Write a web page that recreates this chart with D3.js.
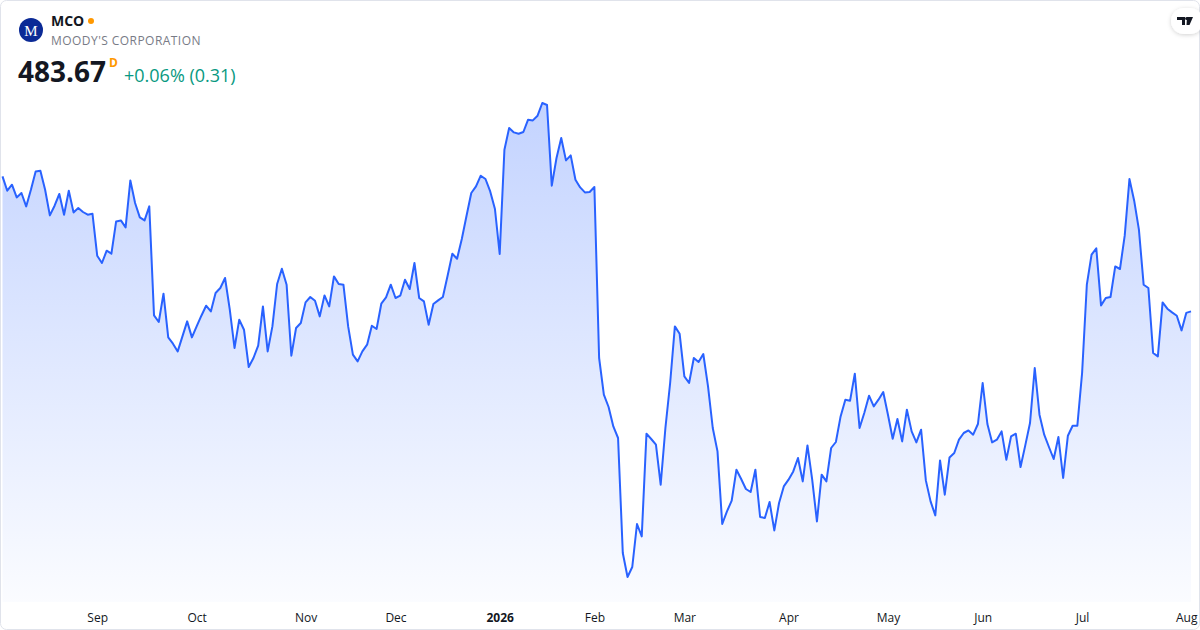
<!DOCTYPE html>
<html>
<head>
<meta charset="utf-8">
<script src="https://cdn.jsdelivr.net/npm/d3@7"></script>
<style>
  html, body { margin: 0; padding: 0; background: #ffffff; }
  svg { display: block; font-family: "Open Sans", "Noto Sans", sans-serif; }
</style>
</head>
<body>
<div id="chart"></div>
<script>
// daily closes, one per trading day (Aug 2025 - Aug 2026)
var closes = [
  510.66, 507.80, 509.00, 506.46, 507.34, 504.66, 508.00, 511.66, 511.80, 508.00,
  502.86, 504.80, 507.14, 503.00, 507.80, 503.46, 504.34, 503.54, 503.00, 503.20,
  494.80, 493.34, 495.80, 495.20, 501.66, 501.86, 500.46, 509.86, 505.34, 502.46,
  501.86, 504.66, 482.86, 481.54, 487.20, 478.46, 477.20, 475.66, 478.66, 481.66,
  478.46, 480.66, 482.80, 484.80, 483.66, 487.34, 488.34, 490.34, 484.00, 476.34,
  482.00, 480.00, 472.54, 474.34, 476.80, 484.66, 475.66, 480.66, 489.14, 492.20,
  489.00, 474.80, 480.34, 481.34, 485.46, 486.54, 485.80, 482.66, 486.86, 484.66,
  490.66, 489.14, 489.00, 480.66, 475.00, 473.66, 475.66, 477.00, 480.80, 480.14,
  485.20, 486.46, 489.00, 486.34, 486.80, 490.00, 488.14, 493.34, 486.34, 485.66,
  481.00, 485.14, 485.86, 486.54, 490.80, 495.20, 494.20, 498.14, 502.80, 507.34,
  508.66, 510.80, 510.14, 507.66, 504.14, 495.14, 516.00, 520.34, 519.46, 519.20,
  519.54, 522.00, 521.86, 522.80, 525.34, 524.94, 508.80, 514.34, 518.34, 513.86,
  514.86, 510.00, 508.46, 507.46, 507.54, 508.54, 474.34, 467.00, 464.54, 460.66,
  458.34, 435.34, 430.54, 432.54, 441.14, 438.66, 459.20, 458.14, 457.00, 449.00,
  460.34, 469.34, 480.66, 479.20, 470.66, 469.34, 474.34, 473.54, 475.14, 468.66,
  460.34, 455.66, 441.14, 443.66, 445.80, 452.00, 450.14, 448.14, 447.54, 452.00,
  442.54, 442.34, 445.54, 439.86, 445.34, 448.66, 450.00, 451.66, 454.34, 449.66,
  456.86, 450.00, 441.66, 451.00, 449.66, 456.34, 457.54, 462.66, 466.00, 465.80,
  471.20, 460.34, 463.34, 466.80, 464.66, 466.00, 467.54, 463.00, 458.20, 462.14,
  457.66, 464.00, 459.66, 457.46, 460.00, 449.86, 445.66, 442.86, 453.86, 447.00,
  454.46, 455.34, 458.00, 459.34, 459.86, 459.00, 461.14, 469.34, 461.14, 457.46,
  458.00, 459.66, 454.00, 458.66, 459.20, 452.54, 456.86, 461.34, 472.34, 463.00,
  459.00, 456.54, 454.14, 458.54, 450.34, 458.80, 460.80, 460.80, 471.34, 489.00,
  495.00, 496.26, 484.86, 486.34, 486.54, 492.66, 492.14, 498.80, 510.14, 505.80,
  500.00, 489.00, 488.34, 475.34, 474.66, 485.46, 484.20, 483.46, 482.80, 479.86,
  483.36, 483.67
];

// month labels and the trading-day index they sit on
var tickLabels = ["Sep", "Oct", "Nov", "Dec", "2026", "Feb", "Mar", "Apr", "May", "Jun", "Jul", "Aug"];
var tickIndex  = [20, 41, 64, 83, 105, 125, 144, 166, 187, 207, 228, 250];

var symbol = "MCO";
var company = "MOODY'S CORPORATION";
var lastPrice = "483.67";
var change = "+0.06% (0.31)";

var width = 1200, height = 630;
var lineColor = "#2962ff";

var svg = d3.select("#chart").append("svg")
    .attr("width", width)
    .attr("height", height);

var defs = svg.append("defs");
var grad = defs.append("linearGradient")
    .attr("id", "areaFill")
    .attr("gradientUnits", "userSpaceOnUse")
    .attr("x1", 0).attr("y1", 100)
    .attr("x2", 0).attr("y2", 602);
grad.append("stop").attr("offset", "0%").attr("stop-color", lineColor).attr("stop-opacity", 0.28);
grad.append("stop").attr("offset", "100%").attr("stop-color", lineColor).attr("stop-opacity", 0.02);

var shadow = defs.append("filter").attr("id", "shadow")
    .attr("x", "-50%").attr("y", "-50%").attr("width", "200%").attr("height", "200%");
shadow.append("feDropShadow")
    .attr("dx", 0).attr("dy", 1).attr("stdDeviation", 2)
    .attr("flood-color", "#000").attr("flood-opacity", 0.18);

// card
svg.append("rect")
    .attr("x", 0.5).attr("y", 0.5)
    .attr("width", width - 1).attr("height", height - 1)
    .attr("rx", 6)
    .style("fill", "#fff")
    .style("stroke", "#e0e3eb");

var x = d3.scaleLinear()
    .domain([0, closes.length - 1])
    .range([2.5, 1191]);

var y = d3.scaleLinear()
    .domain(d3.extent(closes))
    .range([577, 103]);

var area = d3.area()
    .x(function(d, i) { return x(i); })
    .y0(602)
    .y1(function(d) { return y(d); });

var line = d3.line()
    .x(function(d, i) { return x(i); })
    .y(function(d) { return y(d); });

svg.append("path")
    .datum(closes)
    .attr("d", area)
    .style("fill", "url(#areaFill)");

svg.append("path")
    .datum(closes)
    .attr("d", line)
    .style("fill", "none")
    .style("stroke", lineColor)
    .style("stroke-width", 2)
    .style("stroke-linejoin", "round");

// x axis
var xAxis = d3.axisBottom(x)
    .tickValues(tickIndex)
    .tickSize(0)
    .tickPadding(6)
    .tickFormat(function(d, i) { return tickLabels[i]; });

var gx = svg.append("g")
    .attr("transform", "translate(0,607)")
    .call(xAxis);
gx.select(".domain").remove();
gx.selectAll("text")
    .style("font-family", "'Open Sans', sans-serif")
    .style("font-size", "12px")
    .style("fill", "#131722")
    .style("font-weight", function(d, i) { return tickLabels[i] === "2026" ? "bold" : "normal"; });

// header
var head = svg.append("g");
head.append("circle")
    .attr("cx", 31).attr("cy", 30).attr("r", 12)
    .style("fill", "#0b2a96");
head.append("text")
    .attr("x", 31).attr("y", 35.5)
    .attr("text-anchor", "middle")
    .style("font-family", "'Liberation Serif', 'DejaVu Serif', serif")
    .style("font-size", "15px")
    .style("fill", "#fff")
    .text("M");
head.append("text")
    .attr("x", 51).attr("y", 26)
    .style("font-size", "14px")
    .style("font-weight", "bold")
    .style("fill", "#131722")
    .text(symbol);
head.append("circle")
    .attr("cx", 91).attr("cy", 21).attr("r", 3)
    .style("fill", "#ff9800");
head.append("text")
    .attr("x", 51).attr("y", 45)
    .style("font-size", "12px")
    .style("letter-spacing", "0.45px")
    .style("fill", "#787b86")
    .text(company);
head.append("text")
    .attr("x", 18).attr("y", 82)
    .style("font-size", "28px")
    .style("font-weight", "bold")
    .style("fill", "#131722")
    .text(lastPrice);
head.append("text")
    .attr("x", 109).attr("y", 67)
    .style("font-size", "12px")
    .style("font-weight", "bold")
    .style("fill", "#ff9800")
    .text("D");
head.append("text")
    .attr("x", 124).attr("y", 82)
    .style("font-size", "18px")
    .style("fill", "#089981")
    .text(change);

// TradingView badge, top right
var badge = svg.append("g").attr("transform", "translate(1185,21)");
badge.append("rect")
    .attr("x", -14).attr("y", -13)
    .attr("width", 32).attr("height", 26)
    .attr("rx", 13)
    .style("fill", "#fff")
    .attr("filter", "url(#shadow)");
badge.append("path")
    .attr("d", "M-8,-4 H0 V4 H-3 V-1 H-8 Z M2,-4 H8 L4.5,4 H1.5 Z")
    .style("fill", "#131722");
badge.append("circle").attr("cx", 1.6).attr("cy", -2.4).attr("r", 1.5).style("fill", "#131722");
</script>
</body>
</html>
